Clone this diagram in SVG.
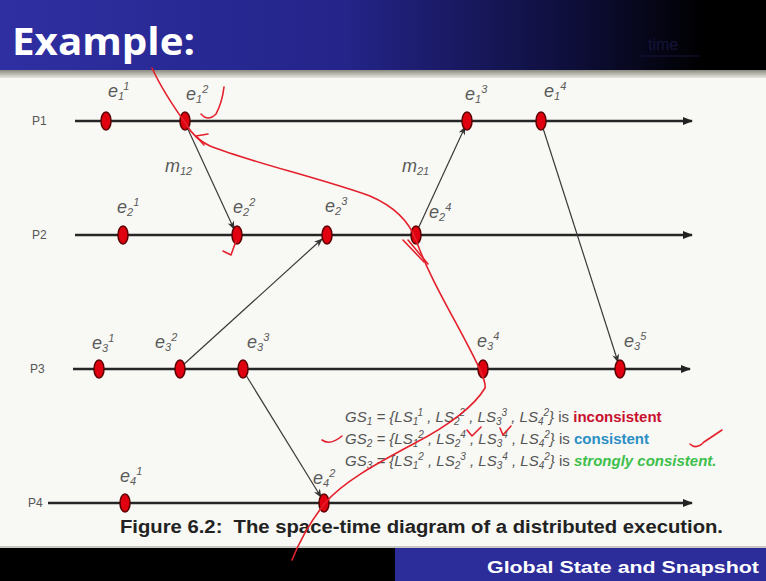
<svg xmlns="http://www.w3.org/2000/svg" width="766" height="581" viewBox="0 0 766 581">
<defs>
<linearGradient id="hdr" x1="0" y1="0" x2="1" y2="0">
<stop offset="0" stop-color="#2f2fa2"/>
<stop offset="0.45" stop-color="#24248a"/>
<stop offset="0.75" stop-color="#0e0e3a"/>
<stop offset="0.92" stop-color="#000000"/>
</linearGradient>
<linearGradient id="strip" x1="0" y1="0" x2="0" y2="1">
<stop offset="0" stop-color="#8a8a80"/>
<stop offset="1" stop-color="#e8e8e0"/>
</linearGradient>
<marker id="pa" viewBox="0 0 10 8" refX="9" refY="4" markerWidth="10" markerHeight="8" markerUnits="userSpaceOnUse" orient="auto">
<path d="M0,0 L10,4 L0,8 z" fill="#222"/>
</marker>
<marker id="ma" viewBox="0 0 10 8" refX="9" refY="4" markerWidth="9" markerHeight="7" markerUnits="userSpaceOnUse" orient="auto">
<path d="M0,0 L10,4 L0,8 L3,4 z" fill="#333"/>
</marker>
</defs>
<style>
.proc{stroke:#262626;stroke-width:2.5;fill:none}
.msg{stroke:#3a3a3a;stroke-width:1.2;fill:none}
.ev{fill:#e00010;stroke:#5a0000;stroke-width:1.5}
.plab{font-family:"Liberation Sans",Arial,sans-serif;font-size:12px;fill:#555}
.elab{font-family:"Liberation Sans",Arial,sans-serif;font-style:italic;font-size:18px;fill:#5a5a5a}
.s{font-size:11px}
.gs{font-family:"Liberation Sans",Arial,sans-serif;font-style:italic;font-size:15px;fill:#555}
.gs .s{font-size:10px}
.up{font-style:normal}
.red{stroke:#e4202c;stroke-width:1.6;fill:none;stroke-linecap:round;stroke-linejoin:round}
</style>
<rect x="0" y="0" width="766" height="581" fill="#f8f8f4"/>
<rect x="0" y="0" width="766" height="70" fill="url(#hdr)"/>
<rect x="0" y="70" width="766" height="8" fill="url(#strip)"/>
<text x="12" y="55" font-family="'Open Sans','Liberation Sans',sans-serif" font-weight="bold" font-size="38" fill="#ffffff" textLength="183" lengthAdjust="spacingAndGlyphs">Example:</text>
<text x="648" y="50" font-family="'Liberation Sans',sans-serif" font-size="16" fill="#14143a">time</text>
<line x1="640" y1="56" x2="700" y2="56" stroke="#14143a" stroke-width="1"/>

<g id="P1"><text class="plab" x="32" y="125">P1</text><line class="proc" x1="75" y1="121" x2="692" y2="121" marker-end="url(#pa)"/></g>
<g id="P2"><text class="plab" x="32" y="239">P2</text><line class="proc" x1="75" y1="235" x2="692" y2="235" marker-end="url(#pa)"/></g>
<g id="P3"><text class="plab" x="30" y="373">P3</text><line class="proc" x1="73" y1="369" x2="690" y2="369" marker-end="url(#pa)"/></g>
<g id="P4"><text class="plab" x="28" y="507">P4</text><line class="proc" x1="48" y1="503" x2="692" y2="503" marker-end="url(#pa)"/></g>

<g id="connectors">
<line class="msg" x1="186" y1="125" x2="234" y2="229" marker-end="url(#ma)"/>
<line class="msg" x1="417" y1="231" x2="465" y2="127" marker-end="url(#ma)"/>
<line class="msg" x1="182" y1="366" x2="322" y2="239" marker-end="url(#ma)"/>
<line class="msg" x1="244" y1="372" x2="321" y2="497" marker-end="url(#ma)"/>
<line class="msg" x1="542" y1="125" x2="618" y2="362" marker-end="url(#ma)"/>
<text class="elab" x="165" y="172">m<tspan class="s" dy="3">12</tspan></text>
<text class="elab" x="402" y="172">m<tspan class="s" dy="3">21</tspan></text>
</g>

<g id="e11"><ellipse class="ev" cx="106" cy="121" rx="5" ry="9"/><text class="elab" x="108" y="97">e<tspan class="s" dy="3">1</tspan><tspan class="s" dy="-10">1</tspan></text></g>
<g id="e12"><ellipse class="ev" cx="185" cy="121" rx="5" ry="9"/><text class="elab" x="186" y="100">e<tspan class="s" dy="3">1</tspan><tspan class="s" dy="-10">2</tspan></text></g>
<g id="e13"><ellipse class="ev" cx="467" cy="121" rx="5" ry="9"/><text class="elab" x="465" y="100">e<tspan class="s" dy="3">1</tspan><tspan class="s" dy="-10">3</tspan></text></g>
<g id="e14"><ellipse class="ev" cx="541" cy="121" rx="5" ry="9"/><text class="elab" x="544" y="97">e<tspan class="s" dy="3">1</tspan><tspan class="s" dy="-10">4</tspan></text></g>

<g id="e21"><ellipse class="ev" cx="123" cy="235" rx="5" ry="9"/><text class="elab" x="117" y="213">e<tspan class="s" dy="3">2</tspan><tspan class="s" dy="-10">1</tspan></text></g>
<g id="e22"><ellipse class="ev" cx="237" cy="235" rx="5" ry="9"/><text class="elab" x="233" y="213">e<tspan class="s" dy="3">2</tspan><tspan class="s" dy="-10">2</tspan></text></g>
<g id="e23"><ellipse class="ev" cx="327" cy="235" rx="5" ry="9"/><text class="elab" x="325" y="212">e<tspan class="s" dy="3">2</tspan><tspan class="s" dy="-10">3</tspan></text></g>
<g id="e24"><ellipse class="ev" cx="416" cy="235" rx="5" ry="9"/><text class="elab" x="429" y="218">e<tspan class="s" dy="3">2</tspan><tspan class="s" dy="-10">4</tspan></text></g>

<g id="e31"><ellipse class="ev" cx="99" cy="369" rx="5" ry="9"/><text class="elab" x="92" y="349">e<tspan class="s" dy="3">3</tspan><tspan class="s" dy="-10">1</tspan></text></g>
<g id="e32"><ellipse class="ev" cx="180" cy="369" rx="5" ry="9"/><text class="elab" x="155" y="348">e<tspan class="s" dy="3">3</tspan><tspan class="s" dy="-10">2</tspan></text></g>
<g id="e33"><ellipse class="ev" cx="243" cy="369" rx="5" ry="9"/><text class="elab" x="247" y="348">e<tspan class="s" dy="3">3</tspan><tspan class="s" dy="-10">3</tspan></text></g>
<g id="e34"><ellipse class="ev" cx="483" cy="369" rx="5" ry="9"/><text class="elab" x="477" y="347">e<tspan class="s" dy="3">3</tspan><tspan class="s" dy="-10">4</tspan></text></g>
<g id="e35"><ellipse class="ev" cx="620" cy="369" rx="5" ry="9"/><text class="elab" x="624" y="347">e<tspan class="s" dy="3">3</tspan><tspan class="s" dy="-10">5</tspan></text></g>

<g id="e41"><ellipse class="ev" cx="125" cy="503" rx="5" ry="9"/><text class="elab" x="120" y="482">e<tspan class="s" dy="3">4</tspan><tspan class="s" dy="-10">1</tspan></text></g>
<g id="e42"><ellipse class="ev" cx="324" cy="503" rx="5" ry="9"/><text class="elab" x="313" y="484">e<tspan class="s" dy="3">4</tspan><tspan class="s" dy="-10">2</tspan></text></g>

<g id="states">
<text class="gs" x="345" y="422">GS<tspan class="s" dy="3">1</tspan><tspan dy="-3"> = {LS</tspan><tspan class="s" dy="3">1</tspan><tspan class="s" dy="-9">1</tspan><tspan dy="6"> , LS</tspan><tspan class="s" dy="3">2</tspan><tspan class="s" dy="-9">2</tspan><tspan dy="6"> , LS</tspan><tspan class="s" dy="3">3</tspan><tspan class="s" dy="-9">3</tspan><tspan dy="6"> , LS</tspan><tspan class="s" dy="3">4</tspan><tspan class="s" dy="-9">2</tspan><tspan dy="6">} </tspan><tspan class="up">is </tspan><tspan class="up" font-weight="bold" fill="#c8102e">inconsistent</tspan></text>
<text class="gs" x="345" y="444">GS<tspan class="s" dy="3">2</tspan><tspan dy="-3"> = {LS</tspan><tspan class="s" dy="3">1</tspan><tspan class="s" dy="-9">2</tspan><tspan dy="6"> , LS</tspan><tspan class="s" dy="3">2</tspan><tspan class="s" dy="-9">4</tspan><tspan dy="6"> , LS</tspan><tspan class="s" dy="3">3</tspan><tspan class="s" dy="-9">4</tspan><tspan dy="6"> , LS</tspan><tspan class="s" dy="3">4</tspan><tspan class="s" dy="-9">2</tspan><tspan dy="6">} </tspan><tspan class="up">is </tspan><tspan class="up" font-weight="bold" fill="#2b8fc4">consistent</tspan></text>
<text class="gs" x="345" y="466">GS<tspan class="s" dy="3">3</tspan><tspan dy="-3"> = {LS</tspan><tspan class="s" dy="3">1</tspan><tspan class="s" dy="-9">2</tspan><tspan dy="6"> , LS</tspan><tspan class="s" dy="3">2</tspan><tspan class="s" dy="-9">3</tspan><tspan dy="6"> , LS</tspan><tspan class="s" dy="3">3</tspan><tspan class="s" dy="-9">4</tspan><tspan dy="6"> , LS</tspan><tspan class="s" dy="3">4</tspan><tspan class="s" dy="-9">2</tspan><tspan dy="6">} </tspan><tspan class="up">is </tspan><tspan font-weight="bold" fill="#3cc04a">strongly consistent.</tspan></text>
</g>

<text x="120" y="533" font-family="'Liberation Sans',Arial,sans-serif" font-weight="bold" font-size="18" fill="#222" textLength="603" lengthAdjust="spacingAndGlyphs" xml:space="preserve">Figure 6.2:  The space-time diagram of a distributed execution.</text>

<rect x="0" y="546" width="766" height="2" fill="#c8c8c0"/>
<rect x="0" y="548" width="395" height="33" fill="#000"/>
<rect x="395" y="548" width="371" height="33" fill="#2c2c9a"/>
<text x="487" y="573" font-family="'Liberation Sans',Arial,sans-serif" font-weight="bold" font-size="17" fill="#fff" textLength="272" lengthAdjust="spacingAndGlyphs">Global State and Snapshot</text>

<g id="annotations">
<path class="red" d="M152,68 C163,92 176,110 186,124 C191,133 197,140 210,146 C250,162 320,178 370,196 C398,208 410,224 416,240 C432,285 462,330 481,372 C484,380 486,384 485,388 C475,405 450,425 415,443 C380,462 345,480 325,503 C310,522 300,540 292,560"/>
<path class="red" d="M196,136 L208,134 M196,136 L204,145"/>
<path class="red" d="M201,114 Q208,122 216,114 Q222,103 224,87"/>
<path class="red" d="M236,241 L231,255 L223,251"/>
<path class="red" d="M403,240 L424,262 M408,240 L428,264"/>
<path class="red" d="M322,440 Q330,446 342,436"/>
<path class="red" d="M467,430 L472,436 L481,427"/>
<path class="red" d="M500,428 L503,435 L511,426"/>
<path class="red" d="M690,444 Q696,450 704,442 L722,430"/>
</g>
</svg>
